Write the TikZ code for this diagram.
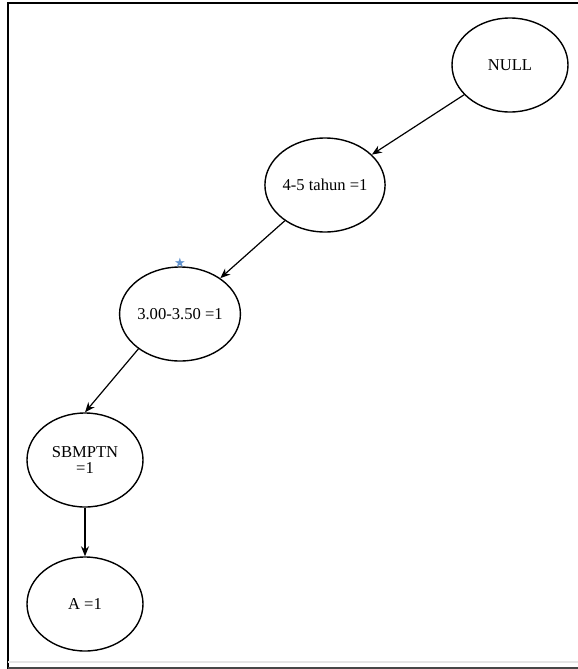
\documentclass[tikz,border=0pt]{standalone}
\usepackage{fontspec}
\setmainfont{Liberation Serif}
\newfontfamily\symfont{DejaVu Sans}
\usetikzlibrary{shapes.geometric,arrows.meta}
\definecolor{starblue}{RGB}{95,145,205}
\definecolor{edgegray}{RGB}{70,70,70}

\begin{document}
\begin{tikzpicture}[x=0.5pt,y=-0.5pt,
    state/.style={ellipse,draw,line width=0.7pt,minimum width=58pt,minimum height=47pt,
      inner sep=0pt,align=center,font=\fontsize{8.3}{7.6}\selectfont},
    link/.style={-{Stealth[length=5pt,width=4pt]},line width=0.6pt}]
      \useasboundingbox (0,0) rectangle (578,669);
      % Frame
      \draw[line width=1pt] (8,669) -- (8,3) -- (578,3);
      \draw[gray!20,line width=0.8pt] (8,662) -- (578,662);
      \draw[edgegray,line width=1.2pt] (8,668) -- (578,668);
      % Nodes
      \node[state] (null) at (510,65) {NULL};
      \node[state] (tahun) at (325,185) {4-5 tahun =1};
      \node[state] (ipk) at (180,314) {3.00-3.50 =1};
      \node[state] (jalur) at (85,460) {SBMPTN\\=1};
      \node[state] (nilai) at (85,604) {A =1};
      \node[starblue,inner sep=0pt,font=\symfont\fontsize{6.5}{6.5}\selectfont] (mark) at (180,263) {★};
      % Edges
      \draw[link] (null) -- (tahun);
      \draw[link] (tahun) -- (ipk);
      \draw[link] (ipk.220) -- (jalur.north);
      \draw[link] (jalur) -- (nilai);
    \end{tikzpicture}
\end{document}
